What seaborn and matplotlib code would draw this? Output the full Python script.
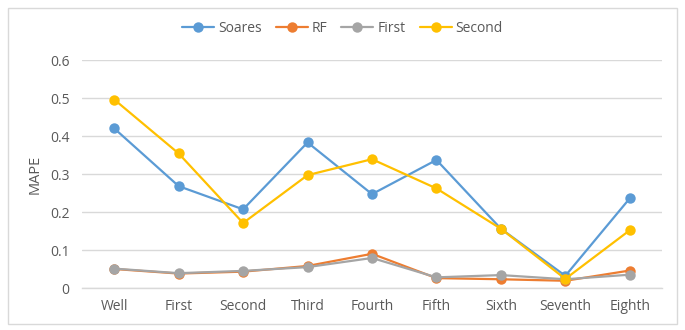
import pandas as pd
import seaborn as sns
import matplotlib.pyplot as plt
from matplotlib.patches import Rectangle

# Data
wells = ['Well', 'First', 'Second', 'Third', 'Fourth', 'Fifth', 'Sixth', 'Seventh', 'Eighth']
soares = [0.420, 0.268, 0.207, 0.383, 0.247, 0.337, 0.156, 0.032, 0.236]
rf = [0.050, 0.038, 0.043, 0.058, 0.090, 0.026, 0.023, 0.019, 0.046]
first = [0.051, 0.039, 0.045, 0.055, 0.079, 0.028, 0.034, 0.023, 0.035]
second = [0.496, 0.354, 0.171, 0.297, 0.339, 0.262, 0.156, 0.024, 0.152]

series = {'Soares': soares, 'RF': rf, 'First': first, 'Second': second}
colors = {'Soares': '#5B9BD5', 'RF': '#ED7D31', 'First': '#A5A5A5', 'Second': '#FFC000'}

df = pd.DataFrame({
    'well': wells * len(series),
    'model': [name for name in series for _ in wells],
    'mape': [v for vals in series.values() for v in vals],
})

sns.set_style('white')
plt.rcParams['font.family'] = ['Open Sans', 'DejaVu Sans']

fig = plt.figure(figsize=(6.85, 3.3), dpi=100)
ax = fig.add_axes([82 / 685, 1 - 288 / 330, 580 / 685, 228 / 330])

sns.lineplot(data=df, x='well', y='mape', hue='model', palette=colors,
             hue_order=list(series), marker='o', markersize=7.5,
             markeredgewidth=0, linewidth=1.6, sort=False, ax=ax)

ax.set_xlim(-0.5, 8.5)
ax.set_ylim(0, 0.6)
ax.set_yticks([0, 0.1, 0.2, 0.3, 0.4, 0.5, 0.6])
ax.set_yticklabels(['0', '0.1', '0.2', '0.3', '0.4', '0.5', '0.6'])
ax.yaxis.grid(True, color='#D9D9D9', linewidth=1)
ax.set_axisbelow(True)
for side in ['top', 'right', 'left']:
    ax.spines[side].set_visible(False)
ax.spines['bottom'].set_color('#D9D9D9')
ax.spines['bottom'].set_linewidth(1)
ax.tick_params(axis='y', length=0, labelsize=10, labelcolor='#595959', pad=9)
ax.tick_params(axis='x', length=0, labelsize=10, labelcolor='#595959', pad=8)
ax.set_xlabel('')
ax.set_ylabel('MAPE', fontsize=10.5, color='#595959', labelpad=5)

handles, labels = ax.get_legend_handles_labels()
ax.legend(handles, labels, loc='center', bbox_to_anchor=(0.5, 1 - 28 / 330),
          bbox_transform=fig.transFigure, ncol=4, frameon=False,
          fontsize=10, labelcolor='#595959', handlelength=2.3,
          handletextpad=0.3, columnspacing=1.0)

fig.patches.append(Rectangle((8 / 685, 6 / 330), 669 / 685, 316 / 330,
                             transform=fig.transFigure, fill=False,
                             edgecolor='#D9D9D9', linewidth=1))

fig.savefig('out.png', dpi=100, facecolor='white')
